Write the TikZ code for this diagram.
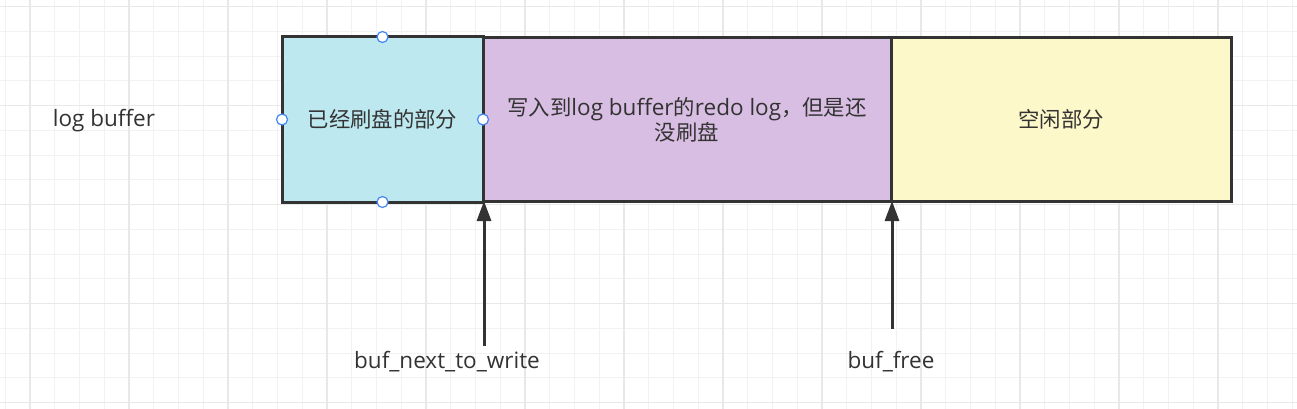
\documentclass[tikz,border=0pt]{standalone}
\usepackage{fontspec}
\setmainfont{Open Sans}
\newfontfamily\cjk[Scale=0.95]{Noto Sans CJK SC}
\usetikzlibrary{arrows.meta}
\definecolor{minorgrid}{HTML}{F2F2F2}
\definecolor{majorgrid}{HTML}{E8E8E8}
\definecolor{ink}{HTML}{333333}
\definecolor{cyanfill}{HTML}{BDE8EF}
\definecolor{lavfill}{HTML}{D9BEE3}
\definecolor{yelfill}{HTML}{FDF8C9}
\definecolor{handleblue}{HTML}{4285F4}
\tikzset{
  mingrid/.style={draw=minorgrid,line width=1pt},
  majgrid/.style={draw=majorgrid,line width=1.5pt},
  segbox/.style={draw=ink,line width=3pt,inner sep=0pt,outer sep=0pt,align=center,text=ink,font=\fontsize{22.5}{25}\selectfont},
  lbl/.style={text=ink,inner sep=0pt,font=\fontsize{22.5}{25}\selectfont},
  ptr/.style={draw=ink,line width=3pt,-{Triangle[length=20pt,width=14pt]}},
  handle/.style={circle,draw=handleblue,fill=white,line width=1.2pt,inner sep=0pt,minimum size=11pt}
}
\begin{document}
\begin{tikzpicture}[x=1pt,y=-1pt]
\useasboundingbox (0,0) rectangle (1297,409);
\fill[white] (0,0) rectangle (1297,409);
% grid
\foreach \i in {-1,...,51} \draw[mingrid] ({30+24.75*\i},0) -- ({30+24.75*\i},409);
\foreach \j in {0,...,16} \draw[mingrid] (0,{6.7+24.75*\j}) -- (1297,{6.7+24.75*\j});
\foreach \i in {0,4,...,48} \draw[majgrid] ({30+24.75*\i},0) -- ({30+24.75*\i},409);
\foreach \j in {0,4,...,16} \draw[majgrid] (0,{6.7+24.75*\j}) -- (1297,{6.7+24.75*\j});
% title
\node[lbl] (title) at (104,121) {log buffer};
% segments
\node[segbox,fill=cyanfill,minimum width=201pt,minimum height=165pt] (b1) at (382.5,119.5) {{\cjk 已经刷盘的部分}};
\node[segbox,fill=lavfill,minimum width=408pt,minimum height=163pt] (b2) at (687,119.5) {{\cjk 写入到}log buffer{\cjk 的}redo log{\cjk ，但是还}\\{\cjk 没刷盘}};
\node[segbox,fill=yelfill,minimum width=340pt,minimum height=163pt] (b3) at (1061,119.5) {{\cjk 空闲部分}};
% handles
\node[handle] (h1) at (b1.north) {};
\node[handle] (h2) at (b1.west) {};
\node[handle] (h3) at (b1.east) {};
\node[handle] (h4) at (b1.south) {};
% pointers
\coordinate (s1) at (484,346);
\coordinate (s2) at (892,329);
\draw[ptr] (s1) -- (s1 |- b2.south);
\draw[ptr] (s2) -- (s2 |- b3.south);
\node[lbl] (l1) at (447,362) {buf\_next\_to\_write};
\node[lbl] (l2) at (891,362) {buf\_free};
\end{tikzpicture}
\end{document}
